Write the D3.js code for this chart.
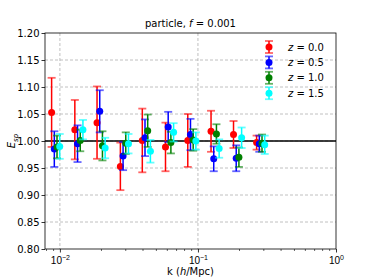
<!DOCTYPE html>
<html><head><meta charset="utf-8">
<script src="https://cdn.jsdelivr.net/npm/d3@7/dist/d3.min.js"></script>
<style>body{margin:0;background:#fff;} svg{display:block;font-family:"DejaVu Sans",sans-serif;}</style>
</head><body>
<script>
const kBins = [0.00871, 0.01283, 0.01858, 0.02742, 0.03953, 0.0582, 0.0844, 0.1244, 0.181, 0.266];
const seriesLabels = ["0.0", "0.5", "1.0", "1.5"];
const seriesColors = ["#ff0000", "#0000ff", "#008000", "#00ffff"];
const esp_z00 = [1.053, 1.021, 1.034, 0.953, 1.001, 0.989, 1.001, 1.018, 1.012, 0.997];
const err_z00 = [0.064, 0.055, 0.067, 0.044, 0.059, 0.045, 0.049, 0.038, 0.025, 0.013];
const esp_z05 = [0.985, 0.995, 1.055, 0.972, 1.006, 1.026, 1.012, 0.967, 0.968, 0.995];
const err_z05 = [0.033, 0.034, 0.039, 0.026, 0.034, 0.028, 0.029, 0.023, 0.024, 0.015];
const esp_z10 = [0.989, 1.001, 0.991, 0.996, 1.019, 0.997, 1.002, 1.013, 0.970, 0.996];
const err_z10 = [0.021, 0.020, 0.027, 0.020, 0.030, 0.020, 0.020, 0.018, 0.018, 0.016];
const esp_z15 = [0.990, 1.021, 0.987, 0.995, 0.981, 1.016, 1.000, 0.986, 1.006, 0.993];
const err_z15 = [0.023, 0.018, 0.019, 0.018, 0.021, 0.017, 0.016, 0.017, 0.019, 0.017];
const yTicks = [0.80, 0.85, 0.90, 0.95, 1.00, 1.05, 1.10, 1.15, 1.20];
const xMajorTicks = [0.01, 0.1, 1];

const series = [
  {label: seriesLabels[0], color: seriesColors[0], y: esp_z00, e: err_z00},
  {label: seriesLabels[1], color: seriesColors[1], y: esp_z05, e: err_z05},
  {label: seriesLabels[2], color: seriesColors[2], y: esp_z10, e: err_z10},
  {label: seriesLabels[3], color: seriesColors[3], y: esp_z15, e: err_z15}
];

const W = 374, H = 280;
const m = {l: 45, r: 38, t: 33, b: 31};
const svg = d3.select("body").append("svg").attr("width", W).attr("height", H);
const x = d3.scaleLog().domain([0.0078, 1]).range([m.l, W - m.r]);
const y = d3.scaleLinear().domain([0.80, 1.20]).range([H - m.b, m.t]);

// grid
const grid = svg.append("g");
grid.selectAll("line.gy").data(yTicks.slice(1, -1)).enter().append("line")
  .attr("x1", m.l).attr("x2", W - m.r).attr("y1", d => y(d)).attr("y2", d => y(d))
  .attr("stroke", "#b0b0b0").attr("stroke-width", 0.8).attr("stroke-dasharray", "3,2");
grid.selectAll("line.gx").data(xMajorTicks.slice(0, 2)).enter().append("line")
  .attr("x1", d => x(d)).attr("x2", d => x(d)).attr("y1", m.t).attr("y2", H - m.b)
  .attr("stroke", "#b0b0b0").attr("stroke-width", 0.8).attr("stroke-dasharray", "3,2");

// reference line at 1
svg.append("line").attr("x1", m.l).attr("x2", W - m.r).attr("y1", y(1)).attr("y2", y(1))
  .attr("stroke", "#000").attr("stroke-width", 1.5);

// data
svg.append("clipPath").attr("id", "c").append("rect")
  .attr("x", m.l).attr("y", m.t).attr("width", W - m.l - m.r).attr("height", H - m.t - m.b);
const dataG = svg.append("g").attr("clip-path", "url(#c)");
const dodge = 2.7, cap = 4;
series.forEach((s, i) => {
  const g = dataG.append("g");
  kBins.forEach((k, j) => {
    const cx = x(k) + i * dodge;
    const v = s.y[j], e = s.e[j];
    g.append("line").attr("x1", cx).attr("x2", cx).attr("y1", y(v - e)).attr("y2", y(v + e))
      .attr("stroke", s.color).attr("stroke-width", 1.5);
    [v - e, v + e].forEach(t => {
      g.append("line").attr("x1", cx - cap).attr("x2", cx + cap).attr("y1", y(t)).attr("y2", y(t))
        .attr("stroke", s.color).attr("stroke-width", 1.8).attr("stroke-opacity", 0.6);
    });
    g.append("circle").attr("cx", cx).attr("cy", y(v)).attr("r", 3.5).attr("fill", s.color);
  });
});

// axes
const xAxis = d3.axisBottom(x).tickValues(xMajorTicks).tickSize(3.5).tickPadding(2)
  .tickFormat(() => "");
const gx = svg.append("g").attr("transform", `translate(0,${H - m.b})`).call(xAxis);
const minors = [];
[0.001, 0.01, 0.1].forEach(d => { for (let f = 2; f <= 9; f++) { const v = d * f; if (v >= 0.0078 && v <= 1) minors.push(v); } });
gx.selectAll("line.minor").data(minors).enter().append("line").attr("class", "minor")
  .attr("x1", d => x(d)).attr("x2", d => x(d)).attr("y1", 0).attr("y2", 2).attr("stroke", "#000").attr("stroke-width", 0.6);
gx.select(".domain").remove();
gx.selectAll(".tick line").attr("stroke-width", 0.8);
const xl = gx.selectAll(".tick").append("text").attr("fill", "#000").attr("y", 14.5).attr("text-anchor", "middle")
  .attr("font-size", 10);
xl.text("10");
xl.append("tspan").attr("dy", -4).attr("font-size", 7).text(d => ["\u22122", "\u22121", "0"][xMajorTicks.indexOf(d)]);

const yAxis = d3.axisLeft(y).tickValues(yTicks).tickSize(3.5).tickPadding(2).tickFormat(d3.format(".2f"));
const gy = svg.append("g").attr("transform", `translate(${m.l},0)`).call(yAxis);
gy.select(".domain").remove();
gy.selectAll(".tick line").attr("stroke-width", 0.8);
gy.selectAll(".tick text").attr("font-size", 10).attr("fill", "#000").attr("font-family", "DejaVu Sans");

// frame
svg.append("rect").attr("x", m.l).attr("y", m.t).attr("width", W - m.l - m.r).attr("height", H - m.t - m.b)
  .attr("fill", "none").attr("stroke", "#000").attr("stroke-width", 0.8);

// title
const title = svg.append("text").attr("x", (m.l + W - m.r) / 2).attr("y", 27).attr("text-anchor", "middle")
  .attr("font-size", 10).attr("fill", "#000");
title.append("tspan").text("particle, ");
title.append("tspan").attr("font-style", "italic").text("f");
title.append("tspan").text(" = 0.001");

// x label
const xlab = svg.append("text").attr("x", (m.l + W - m.r) / 2).attr("y", 275).attr("text-anchor", "middle")
  .attr("font-size", 10).attr("fill", "#000");
xlab.append("tspan").text("k  (");
xlab.append("tspan").attr("font-style", "italic").text("h");
xlab.append("tspan").text("/Mpc)");

// y label
const ylab = svg.append("text").attr("transform", `translate(15,${y(1)}) rotate(-90)`).attr("text-anchor", "middle")
  .attr("font-size", 10).attr("fill", "#000");
ylab.append("tspan").attr("font-style", "italic").text("E");
ylab.append("tspan").attr("font-style", "italic").attr("font-size", 7).attr("dy", 2.5).text("sp");

// legend
const leg = svg.append("g");
series.forEach((s, i) => {
  const ly = 47 + i * 15.4, lx = 269;
  const g = leg.append("g");
  g.append("line").attr("x1", lx).attr("x2", lx).attr("y1", ly - 6).attr("y2", ly + 6).attr("stroke", s.color).attr("stroke-width", 1.5);
  [ly - 6, ly + 6].forEach(t => g.append("line").attr("x1", lx - cap).attr("x2", lx + cap).attr("y1", t).attr("y2", t)
    .attr("stroke", s.color).attr("stroke-width", 1.8).attr("stroke-opacity", 0.6));
  g.append("circle").attr("cx", lx).attr("cy", ly).attr("r", 3.5).attr("fill", s.color);
  const t = g.append("text").attr("x", 288).attr("y", ly + 3.6).attr("font-size", 10).attr("fill", "#000");
  t.append("tspan").attr("font-style", "italic").text("z");
  t.append("tspan").text(" = " + s.label);
});
</script>
</body></html>
